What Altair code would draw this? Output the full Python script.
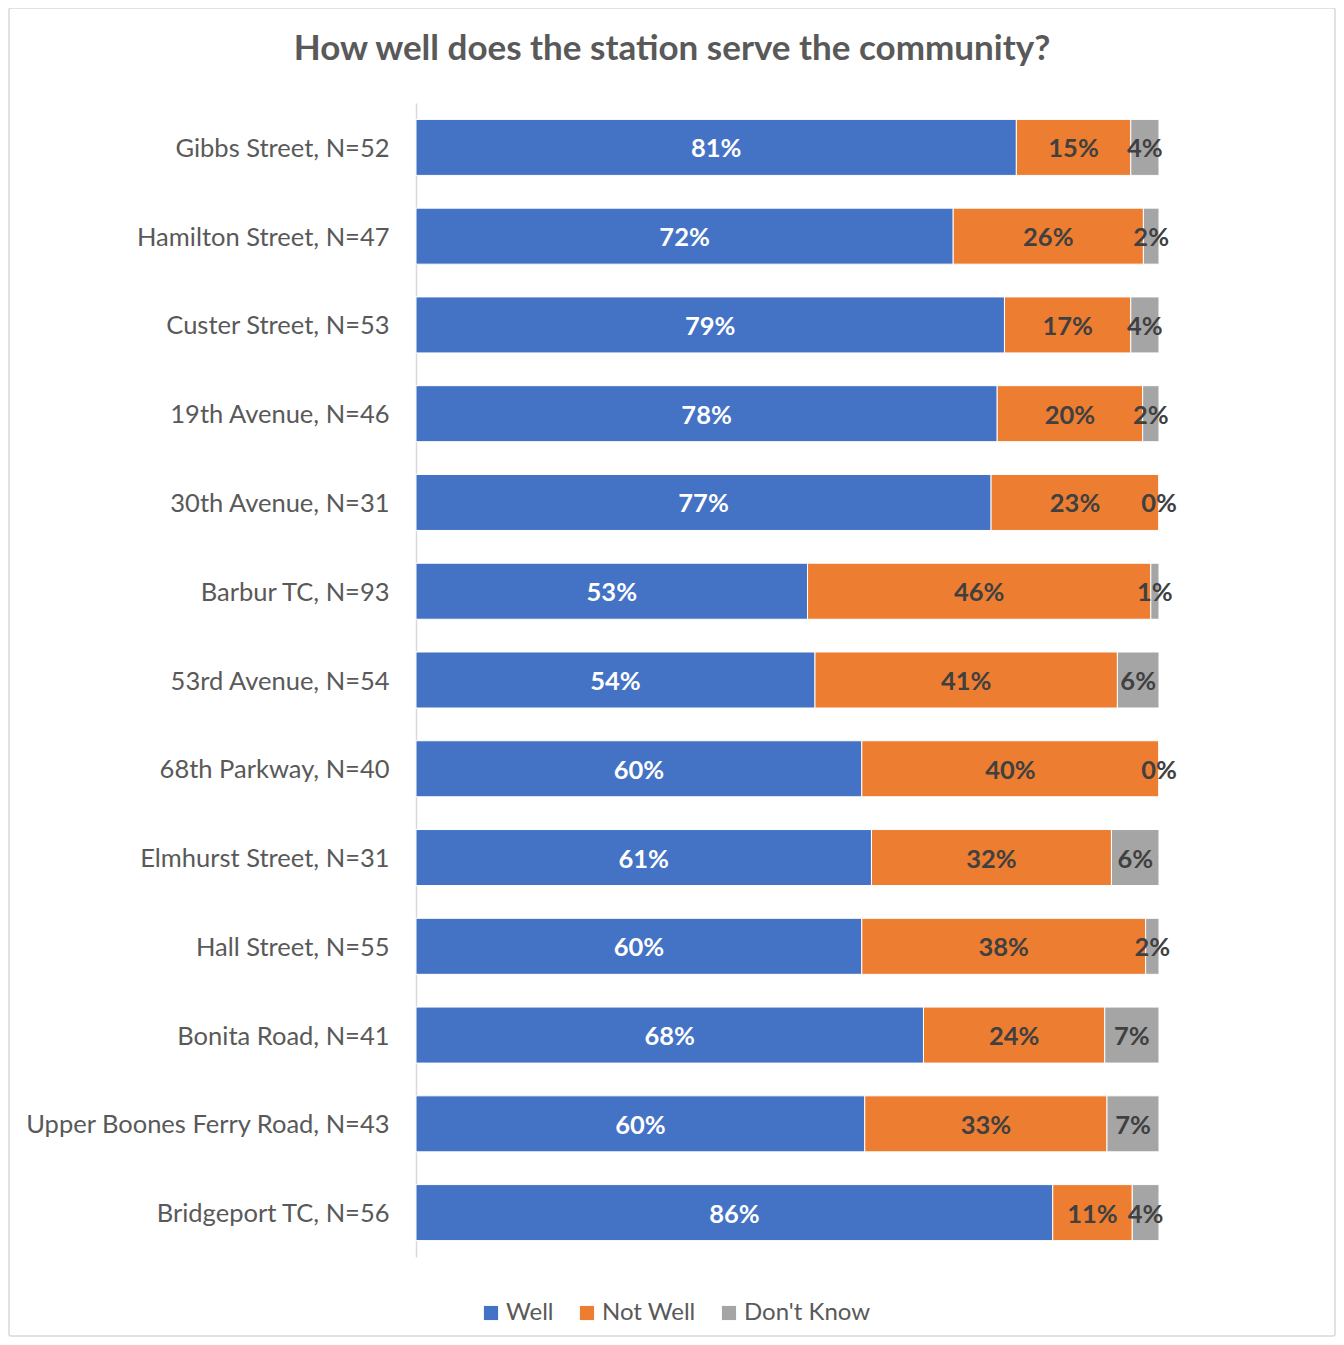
import altair as alt
import pandas as pd

title_text = "How well does the station serve the community?"
stations = [
    "Gibbs Street, N=52",
    "Hamilton Street, N=47",
    "Custer Street, N=53",
    "19th Avenue, N=46",
    "30th Avenue, N=31",
    "Barbur TC, N=93",
    "53rd Avenue, N=54",
    "68th Parkway, N=40",
    "Elmhurst Street, N=31",
    "Hall Street, N=55",
    "Bonita Road, N=41",
    "Upper Boones Ferry Road, N=43",
    "Bridgeport TC, N=56",
]
well = [80.8, 72.3, 79.2, 78.3, 77.4, 52.7, 53.7, 60.0, 61.3, 60.0, 68.3, 60.4, 85.7]
not_well = [15.4, 25.6, 17.0, 19.6, 22.6, 46.2, 40.7, 40.0, 32.3, 38.2, 24.4, 32.6, 10.7]
dont_know = [3.8, 2.1, 3.8, 2.2, 0.0, 1.1, 5.6, 0.0, 6.4, 1.8, 7.3, 7.0, 3.6]

categories = ["Well", "Not Well", "Don't Know"]
colors = ["#4472C4", "#ED7D31", "#A5A5A5"]
label_colors = ["#FFFFFF", "#404040", "#404040"]

rows = []
for i, s in enumerate(stations):
    vals = [well[i], not_well[i], dont_know[i]]
    total = sum(vals)
    start = 0.0
    for k, (cat, v) in enumerate(zip(categories, vals)):
        share = v / total * 100
        rows.append({
            "station": s,
            "category": cat,
            "order": k,
            "value": v,
            "x0": start,
            "x1": start + share,
            "mid": start + share / 2,
            "label": f"{v:.0f}%",
            "lcolor": label_colors[k],
        })
        start += share
df = pd.DataFrame(rows)

FONT = "Lato"
W, H = 743, 1154

y = alt.Y("station:N", sort=stations, title=None,
          scale=alt.Scale(paddingInner=0.369, paddingOuter=0.1845),
          axis=alt.Axis(labelFont=FONT, labelFontSize=25.5, labelColor="#595959",
                        labelPadding=27, labelOffset=1.5, ticks=False,
                        domainColor="#D9D9D9", domainWidth=1.5, labelLimit=500))
xs = alt.Scale(domain=[0, 100], nice=False, zero=True)

base = alt.Chart(df)
one = pd.DataFrame({"t": [title_text]})

border = alt.Chart(one).mark_rect(
    fill=None, stroke="#D9D9D9", strokeWidth=1.5, cornerRadius=2
).encode(x=alt.value(-407), x2=alt.value(919), y=alt.value(-95), y2=alt.value(1233))

title = alt.Chart(one).mark_text(
    font=FONT, fontSize=35, fontWeight="bold", color="#595959",
    align="center", baseline="alphabetic"
).encode(text="t:N", x=alt.value(256), y=alt.value(-43))

bars = base.mark_bar(stroke="white", strokeWidth=1).encode(
    y=y,
    x=alt.X("x0:Q", scale=xs, axis=None),
    x2="x1:Q",
    color=alt.Color("category:N", sort=categories,
                    scale=alt.Scale(domain=categories, range=colors),
                    legend=alt.Legend(title=None, orient="none", direction="horizontal",
                                      legendX=63, legendY=1198,
                                      symbolType="square", symbolSize=200,
                                      symbolStrokeWidth=0,
                                      labelFont=FONT, labelFontSize=24,
                                      labelColor="#595959", labelOffset=3,
                                      columnPadding=21)),
)

labels = base.mark_text(font=FONT, fontSize=25.5, fontWeight="bold", baseline="middle",
                        align="center", dy=2).encode(
    y=alt.Y("station:N", sort=stations),
    x=alt.X("mid:Q", scale=xs),
    text="label:N",
    color=alt.Color("lcolor:N", scale=None, legend=None),
)

chart = alt.layer(border, title, bars, labels).properties(
    width=W, height=H,
    background="white",
    padding={"left": 408, "top": 95, "right": 177, "bottom": 80},
    autosize=alt.AutoSizeParams(type="none"),
).configure_view(strokeWidth=0, stroke=None)

chart.save("out.html", embed_options={"renderer": "svg", "actions": False})
